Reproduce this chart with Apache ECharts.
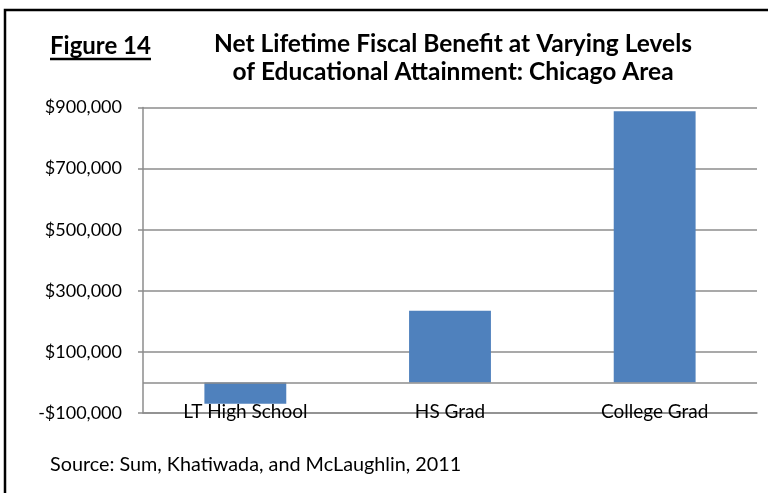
<!DOCTYPE html>
<html>
<head>
<meta charset="utf-8">
<script src="https://cdn.jsdelivr.net/npm/echarts@6/dist/echarts.min.js"></script>
<style>
  html, body { margin: 0; padding: 0; background: #fff; }
  #chart { width: 768px; height: 493px; }
</style>
</head>
<body>
<div id="chart"></div>
<script>
// Education levels and their net lifetime fiscal benefit (USD)
const categories = ['LT High School', 'HS Grad', 'College Grad'];
const netBenefit = [-70000, 235000, 888000];
// Labelled gridline positions on the value axis
const yTicks = [-100000, 100000, 300000, 500000, 700000, 900000];

const FONT = 'Lato, "Open Sans", sans-serif';
const GRID_COLOR = '#8c8c8c';

function money(v) {
  const s = '$' + Math.abs(v).toLocaleString('en-US');
  return v < 0 ? '-' + s : s;
}

const chart = echarts.init(document.getElementById('chart'), null, { renderer: 'canvas' });

chart.setOption({
  animation: false,
  backgroundColor: '#fff',
  textStyle: { fontFamily: FONT },
  grid: { left: 143, right: 11, top: 107.5, bottom: 80, containLabel: false },
  graphic: [
    {
      type: 'rect',
      shape: { x: 5, y: 10, width: 820, height: 520 },
      style: { fill: 'none', stroke: '#000', lineWidth: 2.5 },
      silent: true
    },
    {
      type: 'text',
      x: 50, y: 46,
      style: { text: 'Figure 14', font: 'bold 24px ' + FONT, fill: '#000', verticalAlign: 'middle' }
    },
    {
      type: 'line',
      shape: { x1: 50, y1: 59, x2: 151, y2: 59 },
      style: { stroke: '#000', lineWidth: 2.5 }
    },
    {
      type: 'text',
      x: 453, y: 58,
      style: {
        text: 'Net Lifetime Fiscal Benefit at Varying Levels\nof Educational Attainment: Chicago Area',
        font: 'bold 24.5px ' + FONT, fill: '#000',
        align: 'center', verticalAlign: 'middle', lineHeight: 28
      }
    },
    {
      type: 'text',
      x: 50, y: 465,
      style: { text: 'Source: Sum, Khatiwada, and McLaughlin, 2011', font: '19.8px ' + FONT, fill: '#000', verticalAlign: 'middle' }
    }
  ],
  xAxis: {
    type: 'category',
    data: categories,
    axisLine: { onZero: false, lineStyle: { color: GRID_COLOR, width: 1.5 } },
    axisTick: { show: false },
    axisLabel: { color: '#000', fontSize: 19, fontFamily: FONT, margin: -11 },
    z: 5
  },
  yAxis: {
    type: 'value',
    min: -100000,
    max: 900000,
    interval: 200000,
    axisLine: { show: true, lineStyle: { color: GRID_COLOR, width: 1.5 } },
    axisTick: { show: true, length: 5, customValues: yTicks, lineStyle: { color: GRID_COLOR, width: 1.5 } },
    axisLabel: { customValues: yTicks, color: '#000', fontSize: 18, fontFamily: FONT, margin: 21, formatter: money },
    splitLine: { show: true, lineStyle: { color: GRID_COLOR, width: 1.5 } }
  },
  series: [{
    type: 'bar',
    data: netBenefit,
    barWidth: '40%',
    itemStyle: { color: '#4f81bd' },
    markLine: {
      silent: true,
      symbol: 'none',
      label: { show: false },
      lineStyle: { color: GRID_COLOR, width: 1.5, type: 'solid' },
      data: [{ yAxis: 0 }]
    }
  }]
});
</script>
</body>
</html>
